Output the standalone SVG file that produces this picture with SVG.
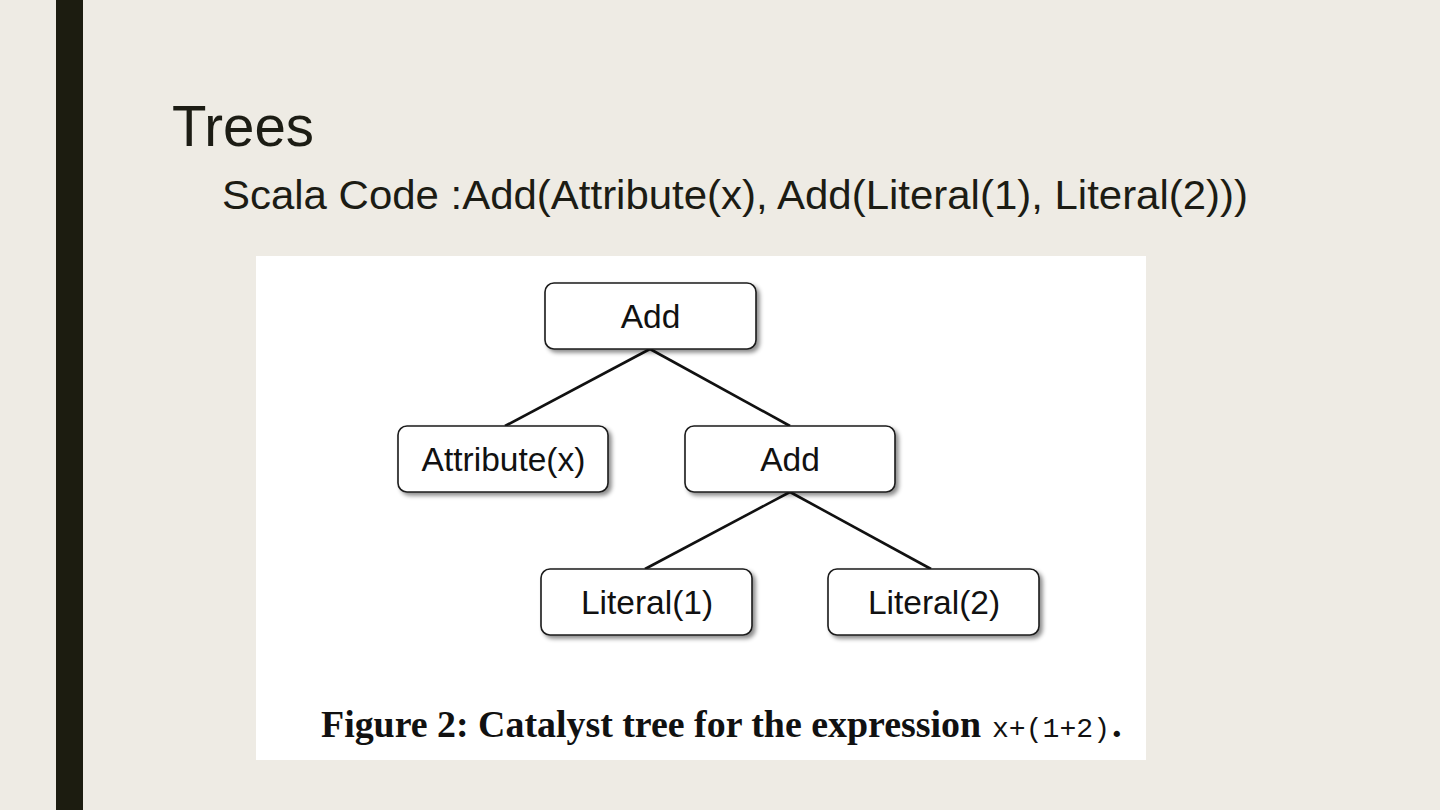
<svg xmlns="http://www.w3.org/2000/svg" width="1440" height="810" viewBox="0 0 1440 810">
<style>
.box{fill:#fff;stroke:#1a1a1a;stroke-width:1.6;filter:url(#sh)}
.lbl{font-family:"Liberation Sans",Arial,sans-serif;font-size:33.5px;fill:#111;text-anchor:middle}
.edge{stroke:#111;stroke-width:2.6;fill:none}
.head{font-family:"Liberation Sans",Arial,sans-serif;fill:#1c1c14}
.serif{font-family:"Liberation Serif","Times New Roman",serif;font-weight:bold;font-size:38.5px}
.mono{font-family:"Liberation Mono","Courier New",monospace;font-weight:normal;font-size:28px}
</style>
<defs>
<filter id="sh" x="-10%" y="-20%" width="130%" height="150%">
<feDropShadow dx="3" dy="3" stdDeviation="2" flood-color="#000" flood-opacity="0.45"/>
</filter>
</defs>
<rect x="0" y="0" width="1440" height="810" fill="#eeebe4"/>
<rect x="56" y="0" width="27" height="810" fill="#1c1c10"/>
<text class="head" x="172" y="146" font-size="57" textLength="142" lengthAdjust="spacingAndGlyphs">Trees</text>
<text class="head" x="222" y="209" font-size="41" textLength="1026" lengthAdjust="spacingAndGlyphs">Scala Code :Add(Attribute(x), Add(Literal(1), Literal(2)))</text>
<rect x="256" y="256" width="890" height="504" fill="#ffffff"/>
<g id="connectors">
<line class="edge" x1="650" y1="349" x2="505" y2="426"/>
<line class="edge" x1="650" y1="349" x2="790" y2="426"/>
<line class="edge" x1="790" y1="492" x2="645" y2="569"/>
<line class="edge" x1="790" y1="492" x2="931" y2="569"/>
</g>
<g id="add-root">
<rect class="box" x="545" y="283" width="211" height="66" rx="9"/>
<text class="lbl" x="650.5" y="328">Add</text>
</g>
<g id="attribute-x">
<rect class="box" x="398" y="426" width="210" height="66" rx="9"/>
<text class="lbl" x="503.5" y="471">Attribute(x)</text>
</g>
<g id="add-child">
<rect class="box" x="685" y="426" width="210" height="66" rx="9"/>
<text class="lbl" x="790" y="471">Add</text>
</g>
<g id="literal-1">
<rect class="box" x="541" y="569" width="211" height="66" rx="9"/>
<text class="lbl" x="647" y="614">Literal(1)</text>
</g>
<g id="literal-2">
<rect class="box" x="828" y="569" width="211" height="66" rx="9"/>
<text class="lbl" x="934" y="614">Literal(2)</text>
</g>
<g id="caption">
<text class="serif" x="321" y="737" fill="#111"><tspan textLength="660" lengthAdjust="spacingAndGlyphs">Figure 2: Catalyst tree for the expression</tspan><tspan class="mono" x="992" textLength="118" lengthAdjust="spacingAndGlyphs">x+(1+2)</tspan><tspan x="1112">.</tspan></text>
</g>
</svg>
